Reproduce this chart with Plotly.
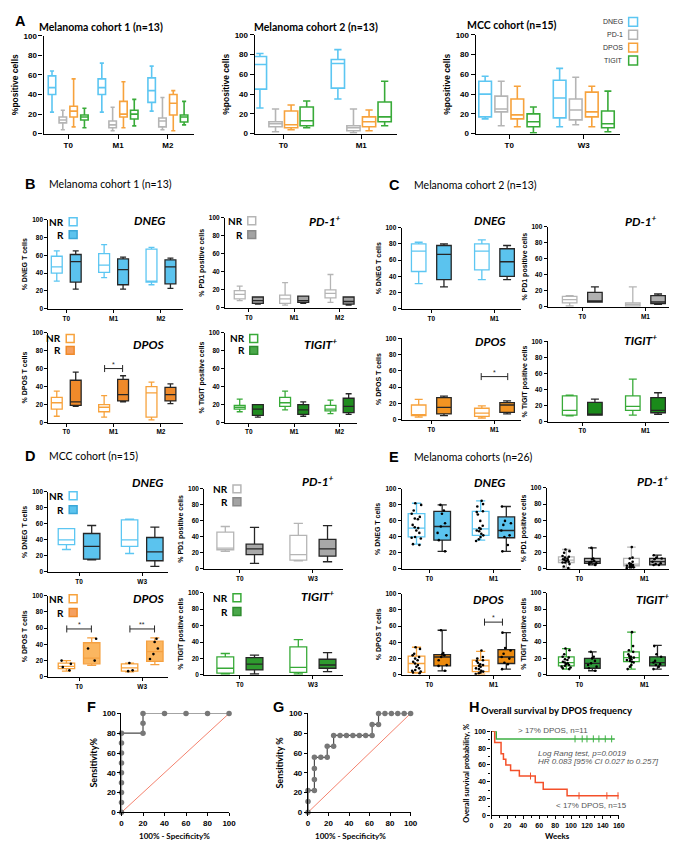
import plotly.graph_objects as go

W, H = 677, 843
ARIAL = 'Arial, Liberation Sans, sans-serif'
CAL = 'Lato, Open Sans, sans-serif'

BLUE = '#5cc6f2'
GREY = '#b5b5b5'
ORANGE = '#f7a23c'
GREEN = '#38aa38'
DARK = '#262626'

# ---------------- data ----------------
# box stats: (min, q1, median, q3, max), one tuple per timepoint

# A - all patients, four populations
a1_times = ['T0', 'M1', 'M2']
a1_dneg = [(22, 40, 47, 59, 64), (22, 40, 47, 56, 72), (23, 32, 44, 57, 69)]
a1_pd1 = [(4, 11, 14, 17, 24), (3, 6, 9, 13, 27), (4, 7, 13, 16, 37)]
a1_dpos = [(7, 17, 23, 28, 56), (6, 17, 20, 33, 53), (3, 19, 31, 40, 44)]
a1_tigit = [(6, 14, 17, 19, 26), (8, 15, 20, 24, 35), (9, 12, 17, 19, 33)]

a2_times = ['T0', 'M1']
a2_dneg = [(26, 45, 70, 78, 81), (35, 46, 71, 75, 85)]
a2_pd1 = [(2, 7, 10, 12, 25), (1, 3, 6, 8, 25)]
a2_dpos = [(4, 6, 9, 23, 29), (3, 7, 12, 17, 24)]
a2_tigit = [(6, 8, 13, 27, 33), (8, 12, 17, 32, 53)]

a3_times = ['T0', 'W3']
a3_dneg = [(15, 17, 40, 53, 58), (7, 16, 36, 54, 66)]
a3_pd1 = [(8, 22, 25, 38, 53), (9, 14, 24, 35, 57)]
a3_dpos = [(7, 15, 19, 35, 48), (7, 17, 22, 42, 48)]
a3_tigit = [(1, 7, 12, 20, 27), (2, 6, 10, 23, 43)]

# B - melanoma cohort 1, non-responders vs responders
b_times = ['T0', 'M1', 'M2']
b_dneg_nr = [(31, 40, 47, 59, 65), (35, 41, 49, 62, 72), (27, 30, 31, 67, 69)]
b_dneg_r = [(22, 30, 53, 61, 65), (22, 27, 44, 56, 58), (23, 28, 47, 55, 57)]
b_pd1_nr = [(8, 10, 15, 19, 24), (3, 5, 10, 14, 28), (6, 11, 16, 20, 37)]
b_pd1_r = [(4, 5, 8, 12, 12), (5, 6, 8, 13, 13), (3, 4, 7, 12, 12)]
b_dpos_nr = [(7, 15, 22, 28, 35), (6, 12, 17, 20, 30), (3, 6, 33, 40, 45)]
b_dpos_r = [(18, 19, 23, 47, 56), (23, 24, 31, 48, 52), (21, 24, 31, 39, 43)]
b_tigit_nr = [(12, 15, 17, 19, 26), (14, 18, 22, 28, 35), (10, 13, 15, 19, 25)]
b_tigit_r = [(6, 8, 15, 20, 20), (7, 9, 14, 20, 23), (9, 11, 18, 27, 32)]

# C - melanoma cohort 2
c_times = ['T0', 'M1']
c_dneg_nr = [(31, 46, 71, 80, 82), (36, 48, 71, 80, 85)]
c_dneg_r = [(27, 36, 67, 78, 80), (36, 40, 58, 74, 78)]
c_pd1_nr = [(1, 5, 9, 13, 14), (1, 1, 3, 5, 25)]
c_pd1_r = [(6, 6, 7, 18, 25), (3, 4, 6, 14, 16)]
c_dpos_nr = [(3, 5, 6, 18, 25), (2, 4, 8, 14, 17)]
c_dpos_r = [(5, 7, 15, 27, 29), (7, 9, 18, 21, 23)]
c_tigit_nr = [(7, 8, 14, 32, 33), (8, 14, 19, 32, 53)]
c_tigit_r = [(8, 8, 9, 24, 28), (9, 11, 14, 30, 36)]

# D - MCC cohort
d_times = ['T0', 'W3']
d_dneg_nr = [(28, 34, 40, 54, 54), (23, 32, 40, 65, 66)]
d_dneg_r = [(15, 16, 32, 48, 58), (7, 14, 25, 43, 56)]
d_pd1_nr = [(22, 24, 26, 46, 53), (10, 11, 18, 42, 57)]
d_pd1_r = [(7, 18, 25, 31, 52), (9, 16, 25, 37, 54)]
d_dpos_nr = [(7, 10, 13, 17, 20), (6, 7, 11, 16, 17)]
d_dpos_r = [(14, 16, 23, 42, 48), (15, 19, 31, 44, 48)]
d_tigit_nr = [(1, 2, 8, 22, 26), (1, 3, 9, 34, 43)]
d_tigit_r = [(1, 6, 13, 21, 24), (4, 8, 12, 19, 27)]
d_dpos_nr_pts = [[20, 16, 12, 8], [17, 8, 7]]
d_dpos_r_pts = [[47, 35, 20], [47, 43, 35, 28, 22]]

# E - both melanoma cohorts
e_times = ['T0', 'M1']
e_dneg_nr = [(31, 40, 51, 69, 82), (36, 42, 50, 72, 85)]
e_dneg_r = [(22, 36, 53, 72, 80), (22, 39, 48, 65, 78)]
e_pd1_nr = [(1, 8, 11, 15, 24), (2, 4, 6, 13, 27)]
e_pd1_r = [(5, 7, 9, 13, 26), (5, 5, 9, 13, 17)]
e_dpos_nr = [(2, 3, 14, 23, 34), (1, 4, 11, 18, 29)]
e_dpos_r = [(5, 11, 22, 25, 55), (7, 14, 22, 31, 52)]
e_tigit_nr = [(7, 11, 15, 22, 32), (7, 16, 21, 28, 52)]
e_tigit_r = [(5, 8, 14, 20, 28), (7, 11, 15, 22, 36)]

e_dneg_nr_pts = [[82, 80, 73, 69, 65, 63, 62, 55, 52, 51, 48, 45, 40, 39, 38, 31, 30],
                 [85, 81, 78, 72, 71, 68, 60, 54, 51, 50, 48, 47, 44, 42, 40, 37, 35]]
e_dneg_r_pts = [[80, 73, 69, 57, 53, 45, 42, 36, 22], [78, 60, 57, 55, 48, 42, 40, 30, 22]]
e_pd1_nr_pts = [[24, 22, 20, 16, 15, 14, 13, 12, 11, 11, 10, 9, 8, 8, 6, 3, 1],
                [27, 14, 13, 9, 7, 6, 6, 5, 5, 4, 4, 3, 3, 2, 2, 2, 1]]
e_pd1_r_pts = [[26, 13, 12, 10, 9, 8, 7, 6, 5], [17, 14, 13, 12, 9, 7, 6, 5, 5]]
e_dpos_nr_pts = [[34, 32, 26, 24, 22, 20, 18, 16, 14, 12, 10, 8, 6, 5, 4, 3, 2],
                 [30, 22, 20, 18, 17, 15, 13, 12, 11, 10, 8, 7, 5, 4, 3, 2, 1]]
e_dpos_r_pts = [[55, 27, 25, 24, 22, 18, 12, 11, 5], [52, 33, 30, 26, 22, 20, 15, 13, 7]]
e_tigit_nr_pts = [[32, 30, 25, 22, 21, 19, 18, 16, 15, 14, 13, 12, 11, 10, 9, 8, 7],
                  [52, 35, 30, 28, 25, 23, 22, 21, 20, 19, 18, 17, 16, 15, 12, 10, 7]]
e_tigit_r_pts = [[28, 22, 20, 17, 14, 12, 10, 8, 5], [35, 25, 22, 17, 15, 13, 12, 10, 7]]

# significance brackets: (timepoint index, height, label)
b_sig = [(1, 60, '*')]
c_sig = [(1, 53, '*')]
d_sig = [(0, 59, '*'), (1, 59, '**')]
e_sig = [(1, 65, '*')]

# F, G - ROC curves
f_fpr = [0, 0, 0, 0, 0, 0, 0, 0, 0, 20, 20, 20, 40, 60, 80, 100]
f_tpr = [0, 10, 20, 30, 40, 50, 60, 70, 80, 80, 90, 100, 100, 100, 100, 100]
g_fpr = [0, 0, 0, 6.25, 6.25, 6.25, 6.25, 12.5, 18.75, 18.75, 25, 25, 31.25, 37.5, 43.75,
         50, 56.25, 62.5, 62.5, 68.75, 68.75, 75, 81.25, 87.5, 93.75, 100]
g_tpr = [0, 11.1, 22.2, 22.2, 33.3, 44.4, 55.6, 55.6, 55.6, 66.7, 66.7, 77.8, 77.8, 77.8, 77.8,
         77.8, 77.8, 77.8, 88.9, 88.9, 100, 100, 100, 100, 100, 100]

# H - Kaplan-Meier
h_hi_weeks = [0, 6, 155]
h_hi_surv = [100, 90.9, 90.9]
h_hi_cens = [105, 114, 120, 128, 135, 143, 151]
h_lo_weeks = [0, 4, 12, 15, 18, 24, 35, 55, 65, 95, 160]
h_lo_surv = [100, 86.7, 73.3, 66.7, 60, 53.3, 46.7, 38.9, 31.1, 23.3, 23.3]
h_lo_cens = [49, 110, 145, 159]

# ---------------- figure ----------------
fig = go.Figure()
n_axes = [0]


def new_axes(x0, x1, ytop, ybot, xrange, tickvals=None, ticktext=None, ytitle=None,
             tick_size=6.5, title_size=7, title_family=ARIAL, xdtick=20, ticklen=3, minor=False):
    n_axes[0] += 1
    s = '' if n_axes[0] == 1 else str(n_axes[0])
    common = dict(showline=True, linecolor='black', linewidth=1.2, ticks='outside',
                  ticklen=ticklen, tickwidth=1.1, tickcolor='black', showgrid=False,
                  zeroline=False, fixedrange=True,
                  tickfont=dict(family=ARIAL, size=tick_size, color='black', weight='bold'))
    xa = dict(common, domain=[x0 / W, x1 / W], range=xrange, anchor='y' + s)
    if tickvals is not None:
        xa.update(tickmode='array', tickvals=tickvals, ticktext=ticktext)
    else:
        xa.update(dtick=xdtick, tick0=0)
    ya = dict(common, domain=[1 - ybot / H, 1 - ytop / H], range=[0, 100], anchor='x' + s,
              dtick=20, tick0=0)
    if ytitle:
        ya['title'] = dict(text=ytitle, standoff=3,
                           font=dict(family=title_family, size=title_size, color='black', weight='bold'))
    if minor:
        mn = dict(ticks='outside', dtick=10, ticklen=2, tickcolor='black')
        xa['minor'] = mn
        ya['minor'] = mn
    fig.update_layout(**{'xaxis' + s: xa, 'yaxis' + s: ya})
    return 'x' + s, 'y' + s


def cat_range(x0, x1, c0, c1, n):
    s = (c1 - c0) / (n - 1)
    return [-(c0 - x0) / s, (n - 1) + (x1 - c1) / s]


def add_box(xa, ya, xs, stats, line, fill, width, lw):
    lo, q1, med, q3, hi = (list(v) for v in zip(*stats))
    fig.add_trace(go.Box(x=xs, lowerfence=lo, q1=q1, median=med, q3=q3, upperfence=hi,
                         width=width, whiskerwidth=0.55, fillcolor=fill,
                         line=dict(color=line, width=lw), boxpoints=False,
                         hoverinfo='skip', xaxis=xa, yaxis=ya))


def add_dots(xa, ya, xs, pts, width):
    px, py = [], []
    for x, vals in zip(xs, pts):
        px += [x] * len(vals)
        py += vals
    fig.add_trace(go.Box(x=px, y=py, boxpoints='all', jitter=1, pointpos=0, width=width,
                         fillcolor='rgba(0,0,0,0)', line=dict(color='rgba(0,0,0,0)', width=0),
                         marker=dict(color='black', size=2.6), hoverinfo='skip',
                         xaxis=xa, yaxis=ya))


def ann(x, y, text, size, bold=False, italic=False, family=ARIAL, color='black',
        xanchor='left', yanchor='middle'):
    fig.add_annotation(x=x / W, y=1 - y / H, xref='paper', yref='paper', text=text,
                       showarrow=False, xanchor=xanchor, yanchor=yanchor,
                       font=dict(family=family, size=size, color=color,
                                 weight='bold' if bold else 'normal',
                                 style='italic' if italic else 'normal'))


def square(x, y, line, fill, size=8):
    fig.add_shape(type='rect', xref='paper', yref='paper', x0=x / W, x1=(x + size) / W,
                  y0=1 - (y + size / 2) / H, y1=1 - (y - size / 2) / H,
                  line=dict(color=line, width=1.5), fillcolor=fill)


def nr_legend(xr, y_nr, y_r, col, fill_r, line_r):
    ann(xr, y_nr, 'NR', 10, bold=True, family=CAL, xanchor='right')
    ann(xr, y_r, 'R', 10, bold=True, family=CAL, xanchor='right')
    square(xr + 3, y_nr, col, 'white')
    square(xr + 3, y_r, line_r, fill_r)


def bracket(xa, ya, idx, y, txt, half):
    fig.add_trace(go.Scatter(x=[idx - half, idx + half], y=[y, y], mode='lines+markers',
                             line=dict(color=DARK, width=1), cliponaxis=False,
                             marker=dict(symbol='line-ns', size=5, line=dict(width=1, color=DARK)),
                             hoverinfo='skip', xaxis=xa, yaxis=ya))
    fig.add_annotation(x=idx, y=y, xref=xa, yref=ya, text=txt, showarrow=False,
                       yanchor='bottom', yshift=-1, font=dict(family=ARIAL, size=7, color=DARK))


def panel_a(x0, x1, c0, c1, ytop, ybot, times, series, step, width):
    n = len(times)
    xa, ya = new_axes(x0, x1, ytop, ybot, cat_range(x0, x1, c0, c1, n), list(range(n)), times,
                      '%positive cells', tick_size=8, title_size=8.5, ticklen=4)
    for k, (stats, col) in enumerate(series):
        off = -1.5 * step + step * k
        add_box(xa, ya, [i + off for i in range(n)], stats, col, 'white', width, 1.6)


def panel_r(geom, ytop, ybot, times, nr, r, col, fill_r, line_r, ytitle, width,
            nr_pts=None, r_pts=None, sig=None, sig_half=0.2):
    x0, x1, c0, c1 = geom
    n = len(times)
    xa, ya = new_axes(x0, x1, ytop, ybot, cat_range(x0, x1, c0, c1, n), list(range(n)), times,
                      ytitle)
    xs_nr = [i - 0.2 for i in range(n)]
    xs_r = [i + 0.2 for i in range(n)]
    add_box(xa, ya, xs_nr, nr, col, 'white', width, 1.3)
    add_box(xa, ya, xs_r, r, line_r, fill_r, width, 1.3)
    if nr_pts:
        add_dots(xa, ya, xs_nr, nr_pts, width * 0.7)
        add_dots(xa, ya, xs_r, r_pts, width * 0.7)
    for idx, y, txt in (sig or []):
        bracket(xa, ya, idx, y, txt, sig_half)


# ---- A ----
panel_a(34, 186, 59, 160, 24, 123, a1_times,
        [(a1_dneg, BLUE), (a1_pd1, GREY), (a1_dpos, ORANGE), (a1_tigit, GREEN)], 0.217, 0.15)
panel_a(248, 392, 277, 356, 23, 123, a2_times,
        [(a2_dneg, BLUE), (a2_pd1, GREY), (a2_dpos, ORANGE), (a2_tigit, GREEN)], 0.2, 0.17)
panel_a(472, 618, 506, 581.5, 23, 123, a3_times,
        [(a3_dneg, BLUE), (a3_pd1, GREY), (a3_dpos, ORANGE), (a3_tigit, GREEN)], 0.216, 0.17)

# ---- B ----
gb1 = (39, 175, 57, 153)
gb2 = (218, 352, 242, 334)
panel_r(gb1, 210, 300, b_times, b_dneg_nr, b_dneg_r, BLUE, '#5bc3ee', DARK, '% DNEG T cells', 0.23)
panel_r(gb2, 208, 299, b_times, b_pd1_nr, b_pd1_r, GREY, '#a3a3a3', DARK, '% PD1 positive cells', 0.24)
panel_r(gb1, 324, 415, b_times, b_dpos_nr, b_dpos_r, ORANGE, '#f08a2a', DARK, '% DPOS T cells', 0.23,
        sig=b_sig, sig_half=0.19)
panel_r(gb2, 324, 415, b_times, b_tigit_nr, b_tigit_r, GREEN, '#1f8c1f', DARK,
        '% TIGIT positive cells', 0.24)

# ---- C ----
gc1 = (397, 518, 427, 491)
gc2 = (545, 673, 580, 644)
panel_r(gc1, 218, 300, c_times, c_dneg_nr, c_dneg_r, BLUE, '#5bc3ee', DARK, '% DNEG T cells', 0.23)
panel_r(gc2, 217, 298, c_times, c_pd1_nr, c_pd1_r, GREY, '#b0b0b0', DARK, '% PD1 positive cells', 0.23)
panel_r(gc1, 330, 412, c_times, c_dpos_nr, c_dpos_r, ORANGE, '#f39422', DARK, '% DPOS T cells', 0.23,
        sig=c_sig, sig_half=0.21)
panel_r(gc2, 333, 414, c_times, c_tigit_nr, c_tigit_r, GREEN, '#1a8a1a', DARK,
        '% TIGIT positive cells', 0.23)

# ---- D ----
gd1 = (39, 160, 70, 134)
gd2 = (197, 337, 233, 307)
panel_r(gd1, 485, 566, d_times, d_dneg_nr, d_dneg_r, BLUE, '#5bc3ee', DARK, '% DNEG T cells', 0.26)
panel_r(gd2, 482, 563, d_times, d_pd1_nr, d_pd1_r, GREY, '#a8a8a8', DARK, '% PD1 positive cells', 0.23)
panel_r(gd1, 590, 672, d_times, d_dpos_nr, d_dpos_r, ORANGE, '#fbb660', '#f5a040', '% DPOS T cells', 0.26,
        nr_pts=d_dpos_nr_pts, r_pts=d_dpos_r_pts, sig=d_sig, sig_half=0.195)
panel_r(gd2, 587, 670, d_times, d_tigit_nr, d_tigit_r, GREEN, '#2e9a2e', DARK,
        '% TIGIT positive cells', 0.23)

# ---- E ----
ge1 = (397, 518, 425, 490)
ge2 = (544, 672, 577, 643)
panel_r(ge1, 482, 563, e_times, e_dneg_nr, e_dneg_r, BLUE, '#5bc3ee', DARK, '% DNEG T cells', 0.26,
        nr_pts=e_dneg_nr_pts, r_pts=e_dneg_r_pts)
panel_r(ge2, 481, 563, e_times, e_pd1_nr, e_pd1_r, GREY, '#b0b0b0', DARK, '% PD1 positive cells', 0.24,
        nr_pts=e_pd1_nr_pts, r_pts=e_pd1_r_pts)
panel_r(ge1, 588, 670, e_times, e_dpos_nr, e_dpos_r, ORANGE, '#ec8a0e', DARK, '% DPOS T cells', 0.26,
        nr_pts=e_dpos_nr_pts, r_pts=e_dpos_r_pts, sig=e_sig, sig_half=0.14)
panel_r(ge2, 587, 670, e_times, e_tigit_nr, e_tigit_r, GREEN, '#2e9a3a', DARK,
        '% TIGIT positive cells', 0.24, nr_pts=e_tigit_nr_pts, r_pts=e_tigit_r_pts)


# ---- F, G: ROC ----
def roc(x0, x1, ytop, ybot, fpr, tpr, ytitle):
    xa, ya = new_axes(x0, x1, ytop, ybot, [0, 100], ytitle=ytitle, tick_size=8, title_size=9,
                      title_family=CAL, ticklen=3)
    fig.add_trace(go.Scatter(x=[0, 100], y=[0, 100], mode='lines', cliponaxis=False,
                             line=dict(color='#f4826e', width=1), hoverinfo='skip',
                             xaxis=xa, yaxis=ya))
    fig.add_trace(go.Scatter(x=fpr, y=tpr, mode='lines+markers', cliponaxis=False,
                             line=dict(color='#4a4a4a', width=1.2),
                             marker=dict(color='#777777', size=5.5), hoverinfo='skip',
                             xaxis=xa, yaxis=ya))


roc(113, 222, 709, 809, f_fpr, f_tpr, 'Sensitivity%')
roc(302, 406, 709, 809, g_fpr, g_tpr, 'Sensitivity %')
ann(167, 832.5, '100% - Specificity%', 8, bold=True, family=CAL, xanchor='center')
ann(345, 832.5, '100% - Specificity%', 8, bold=True, family=CAL, xanchor='center')

# ---- H: survival ----
xa, ya = new_axes(488, 617, 727, 812, [0, 160], ytitle='Overall survival probability, %',
                  tick_size=7, title_size=7.5, title_family=CAL, ticklen=3, minor=True)
ann(555, 833, 'Weeks', 8, bold=True, family=CAL, xanchor='center')


def surv_at(weeks, surv, t):
    v = surv[0]
    for w, s in zip(weeks, surv):
        if w <= t:
            v = s
    return v


for weeks, surv, cens, col in [(h_hi_weeks, h_hi_surv, h_hi_cens, '#3cb043'),
                               (h_lo_weeks, h_lo_surv, h_lo_cens, '#f4502a')]:
    fig.add_trace(go.Scatter(x=weeks, y=surv, mode='lines', line=dict(shape='hv', color=col, width=1.5),
                             cliponaxis=False, hoverinfo='skip', xaxis=xa, yaxis=ya))
    fig.add_trace(go.Scatter(x=cens, y=[surv_at(weeks, surv, t) for t in cens], mode='markers',
                             marker=dict(symbol='line-ns', size=5, line=dict(width=1, color=col)),
                             cliponaxis=False, hoverinfo='skip', xaxis=xa, yaxis=ya))

# ---------------- text, legends ----------------
for x, y, letter in [(3, 9, 'A'), (13, 174, 'B'), (382, 175, 'C'), (13, 449, 'D'),
                     (382, 450, 'E'), (76, 703, 'F'), (265, 702, 'G'), (463, 703, 'H')]:
    ann(x, y, letter, 14.5, bold=True)

ann(92, 15, 'Melanoma cohort 1 (n=13)', 10.5, bold=True, family=CAL, xanchor='center')
ann(310, 15, 'Melanoma cohort 2 (n=13)', 10.5, bold=True, family=CAL, xanchor='center')
ann(509, 13, 'MCC cohort (n=15)', 10.5, bold=True, family=CAL, xanchor='center')
ann(38, 174, 'Melanoma cohort 1 (n=13)', 10.5, family=CAL)
ann(407, 175, 'Melanoma cohort 2 (n=13)', 10.5, family=CAL)
ann(38, 449, 'MCC cohort (n=15)', 10.5, family=CAL)
ann(407, 450, 'Melanoma cohorts (n=26)', 10.5, family=CAL)
ann(554, 706, 'Overall survival by DPOS frequency', 9.5, bold=True, family=CAL, xanchor='center')

# A legend
for y, name, col in [(10, 'DNEG', BLUE), (23, 'PD-1', GREY), (36, 'DPOS', ORANGE), (49, 'TIGIT', GREEN)]:
    ann(623, y, name, 7, color='#333333', xanchor='right')
    square(627, y, col, 'white', size=9)

# population labels
labels = [(160, 211, 'DNEG'), (337, 211, 'PD-1<sup>+</sup>'), (158, 336, 'DPOS'), (333, 336, 'TIGIT<sup>+</sup>'),
          (505, 211, 'DNEG'), (658, 211, 'PD-1<sup>+</sup>'), (505, 333, 'DPOS'), (658, 332, 'TIGIT<sup>+</sup>'),
          (158, 476, 'DNEG'), (330, 474, 'PD-1<sup>+</sup>'), (158, 593, 'DPOS'), (330, 590, 'TIGIT<sup>+</sup>'),
          (505, 476, 'DNEG'), (670, 474, 'PD-1<sup>+</sup>'), (503, 594, 'DPOS'), (670, 593, 'TIGIT<sup>+</sup>')]
for x, y, t in labels:
    ann(x, y, t, 12, bold=True, italic=True, family=CAL, xanchor='right')

# NR / R legends
nr_legend(57, 212, 225, BLUE, '#5bc3ee', '#3aa7d8')
nr_legend(238, 211, 225, GREY, '#a3a3a3', '#8a8a8a')
nr_legend(54, 330, 342, ORANGE, '#f5a060', '#f08a2a')
nr_legend(240, 330, 342, GREEN, '#4aa84a', '#2e8b2e')
nr_legend(57, 489, 503, BLUE, '#5bc3ee', '#3aa7d8')
nr_legend(223, 482, 495, GREY, '#a3a3a3', '#8a8a8a')
nr_legend(57, 593, 607, ORANGE, '#f5a060', '#f08a2a')
nr_legend(223, 592, 606, GREEN, '#4aa84a', '#2e8b2e')

# survival annotations
ann(550, 726, '&gt; 17% DPOS, n=11', 8, color='#555555', xanchor='center')
ann(533, 749, 'Log Rang test, p=0.0019', 8, italic=True, color='#555555')
ann(533, 758, 'HR 0.083 [95% CI 0.027 to 0.257]', 8, italic=True, color='#555555')
ann(551, 802, '&lt; 17% DPOS, n=15', 8, color='#555555')

fig.update_layout(width=W, height=H, autosize=False, margin=dict(l=0, r=0, t=0, b=0),
                  plot_bgcolor='white', paper_bgcolor='white', showlegend=False, boxmode='overlay')

fig.write_html('out.html')
